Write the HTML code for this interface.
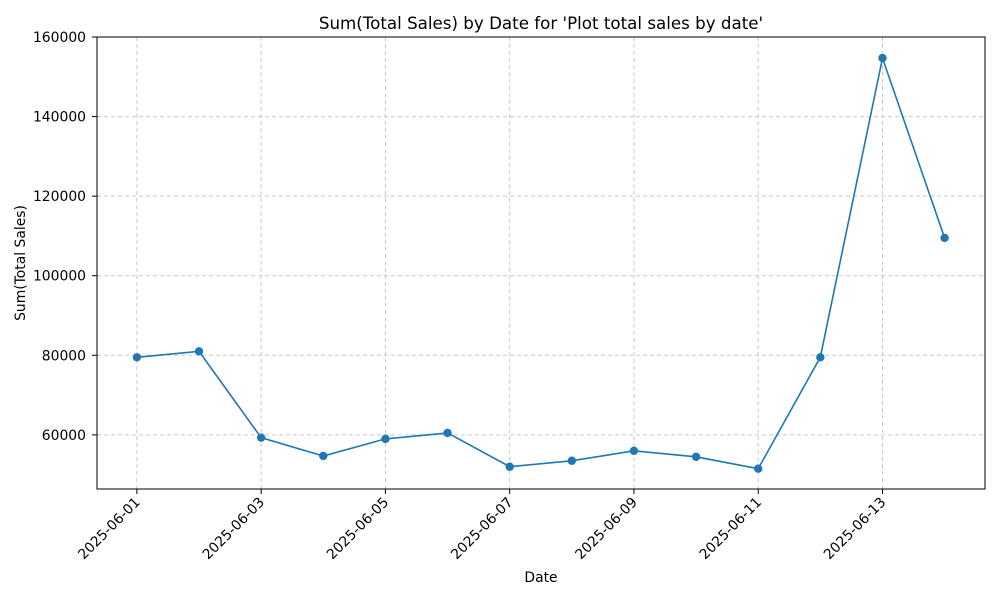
<!DOCTYPE html>
<html><head><meta charset="utf-8"><style>
body{margin:0;background:#fff;font-family:"DejaVu Sans","Liberation Sans",sans-serif;}
</style></head><body>
<svg id="chart" width="1000" height="600" xmlns="http://www.w3.org/2000/svg" font-family="DejaVu Sans, Liberation Sans, sans-serif">
<rect width="1000" height="600" fill="#fff"/>
<g id="grid"></g>
<g id="axes"></g>
<g id="series"></g>
<text x="541" y="29" font-size="16.7" text-anchor="middle">Sum(Total Sales) by Date for 'Plot total sales by date'</text>
<text x="541" y="582" font-size="13.9" text-anchor="middle">Date</text>
<text x="0" y="0" font-size="13.9" text-anchor="middle" transform="translate(25,263) rotate(-90)">Sum(Total Sales)</text>
</svg>
<script>
const dates = ["2025-06-01","2025-06-02","2025-06-03","2025-06-04","2025-06-05","2025-06-06","2025-06-07","2025-06-08","2025-06-09","2025-06-10","2025-06-11","2025-06-12","2025-06-13","2025-06-14"];
const sales = [79500,81000,59300,54700,59000,60500,52000,53500,56000,54500,51500,79500,154700,109500];
const yTicks = [60000,80000,100000,120000,140000,160000];
const xTickLabels = ["2025-06-01","2025-06-03","2025-06-05","2025-06-07","2025-06-09","2025-06-11","2025-06-13"];

const L=97,R=985,T=37,B=489;
const xMin=-0.642,xMax=13.65,yMin=46400,yMax=160000;
const NS="http://www.w3.org/2000/svg";
function xs(i){return L+(i-xMin)/(xMax-xMin)*(R-L);}
function ys(v){return B-(v-yMin)/(yMax-yMin)*(B-T);}
function mk(tag,attrs,parent){const e=document.createElementNS(NS,tag);for(const k in attrs)e.setAttribute(k,attrs[k]);parent.appendChild(e);return e;}
const grid=document.getElementById('grid'),axes=document.getElementById('axes'),series=document.getElementById('series');

yTicks.forEach(v=>{
  const y=ys(v);
  const g=mk('line',{x1:L,x2:R,y1:y,y2:y,stroke:'#c8c8c8','stroke-dasharray':'4,3','stroke-width':1},grid);
  
  
  const t=mk('line',{x1:L-5,x2:L,y1:y,y2:y,stroke:'#000'},axes);
  
  
  const tx=mk('text',{x:L-11,y:y+5,'font-size':13.9,'text-anchor':'end'},axes);
  tx.textContent=v;
  
  
});
xTickLabels.forEach(lab=>{
  const i=dates.indexOf(lab);const x=xs(i);
  const g=mk('line',{x1:x,x2:x,y1:T,y2:B,stroke:'#c8c8c8','stroke-dasharray':'4,3','stroke-width':1},grid);
  
  
  const t=mk('line',{x1:x,x2:x,y1:B,y2:B+5,stroke:'#000'},axes);
  
  
  const tx=mk('text',{x:0,y:0,'font-size':13.9,'text-anchor':'end',transform:`translate(${x+4},${B+14}) rotate(-45)`},axes);
  tx.textContent=lab;
  
  
});
const frame=mk('rect',{x:L,y:T,width:R-L,height:B-T,fill:'none',stroke:'#000','stroke-width':1},axes);



const pts=sales.map((v,i)=>xs(i).toFixed(1)+','+ys(v).toFixed(1)).join(' ');
const pl=mk('polyline',{points:pts,fill:'none',stroke:'#1f77b4','stroke-width':1.6},series);


sales.forEach((v,i)=>{
  const c=mk('circle',{cx:xs(i),cy:ys(v),r:4.2,fill:'#1f77b4'},series);
  
  
});
</script>
</body></html>
